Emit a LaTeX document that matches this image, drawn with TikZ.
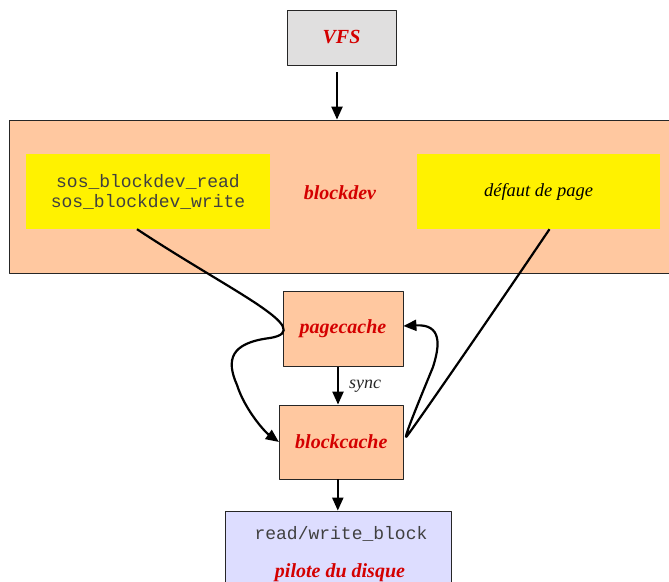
\documentclass[tikz,border=0pt]{standalone}
\usepackage{fontspec}
\setmainfont{Liberation Serif}
\setmonofont{Liberation Mono}
\usetikzlibrary{arrows.meta}
\definecolor{peach}{HTML}{FFC8A0}
\definecolor{vfsgray}{HTML}{E0DFDF}
\definecolor{lavender}{HTML}{DDDDFF}
\definecolor{lblred}{HTML}{D40000}
\tikzset{
  box/.style={draw=black!85,line width=0.8bp,rectangle,inner sep=0pt},
  hilite/.style={fill=yellow,rectangle,inner sep=0pt},
  lbl/.style={font=\fontsize{20bp}{22bp}\selectfont\bfseries\itshape,text=lblred},
  code/.style={font=\fontsize{18bp}{20bp}\selectfont\ttfamily,text=black!75},
  flow/.style={line width=2.2bp,-{Triangle[length=13bp,width=11bp]}},
}
\begin{document}
\begin{tikzpicture}[>=latex,line join=round,]
    \useasboundingbox (0bp,0bp) rectangle (669bp,582bp);
    \clip (0bp,0bp) rectangle (669bp,582bp);
    %%
    \node (vfs) at (341.5bp,544.5bp) [box,fill=vfsgray,minimum width=109bp,minimum height=55bp,lbl] {VFS};
    \node (blockdev) at (340bp,385.5bp) [box,fill=peach,minimum width=662bp,minimum height=153bp] {};
    \node (blockdevlbl) at (340bp,389bp) [lbl] {blockdev};
    \node (sosrw) at (148bp,390.5bp) [hilite,minimum width=244bp,minimum height=75bp,code,align=center] {sos\_blockdev\_read\\sos\_blockdev\_write};
    \node (defaut) at (538.5bp,390.5bp) [hilite,minimum width=243bp,minimum height=75bp,font=\fontsize{18.5bp}{20bp}\selectfont\itshape] {défaut de page};
    \node (pagecache) at (343bp,253bp) [box,fill=peach,minimum width=120bp,minimum height=75.5bp,lbl] {pagecache};
    \node (blockcache) at (341.3bp,140bp) [box,fill=peach,minimum width=124bp,minimum height=74bp,lbl] {blockcache};
    \node (pilote) at (338bp,26bp) [box,fill=lavender,minimum width=226bp,minimum height=90bp] {};
    \node (rwblock) at (341bp,48bp) [code] {read/write\_block};
    \node (pilotelbl) at (340bp,9bp) [lbl] {pilote du disque};
    \node (synclbl) at (365bp,196bp) [font=\fontsize{18bp}{20bp}\selectfont\itshape,text=black!85] {sync};
    % straight links
    \draw [flow,shorten <=7bp] ([xshift=-4.5bp]vfs.south) -- ([xshift=-4.5bp]vfs.south |- blockdev.north);
    \draw [flow] ([xshift=-5bp]pagecache.south) -- ([xshift=-5bp]pagecache.south |- blockcache.north);
    \draw [flow] ([xshift=-3.5bp]blockcache.south) -- ([xshift=-3.5bp]blockcache.south |- pilote.north);
    % read/write goes round the page cache
    \draw [flow] ([xshift=-11bp]sosrw.south) ..controls (232bp,290bp) and (318bp,252bp)  .. (270bp,244bp)
        ..controls (230bp,239bp) and (226bp,222bp)  .. (237bp,197bp)
        ..controls (245bp,172bp) and (265bp,150bp)  .. (blockcache.west);
    % page fault: through the block cache back into the page cache
    \draw [flow] ([xshift=11bp]defaut.south) ..controls (480bp,250bp) and (414bp,155bp)  .. (407bp,146bp)
        ..controls (401bp,138bp) and (424bp,193bp)  .. (433bp,215bp)
        ..controls (440bp,237bp) and (442bp,258bp)  .. ([yshift=3bp]pagecache.east);
    %
\end{tikzpicture}
\end{document}
